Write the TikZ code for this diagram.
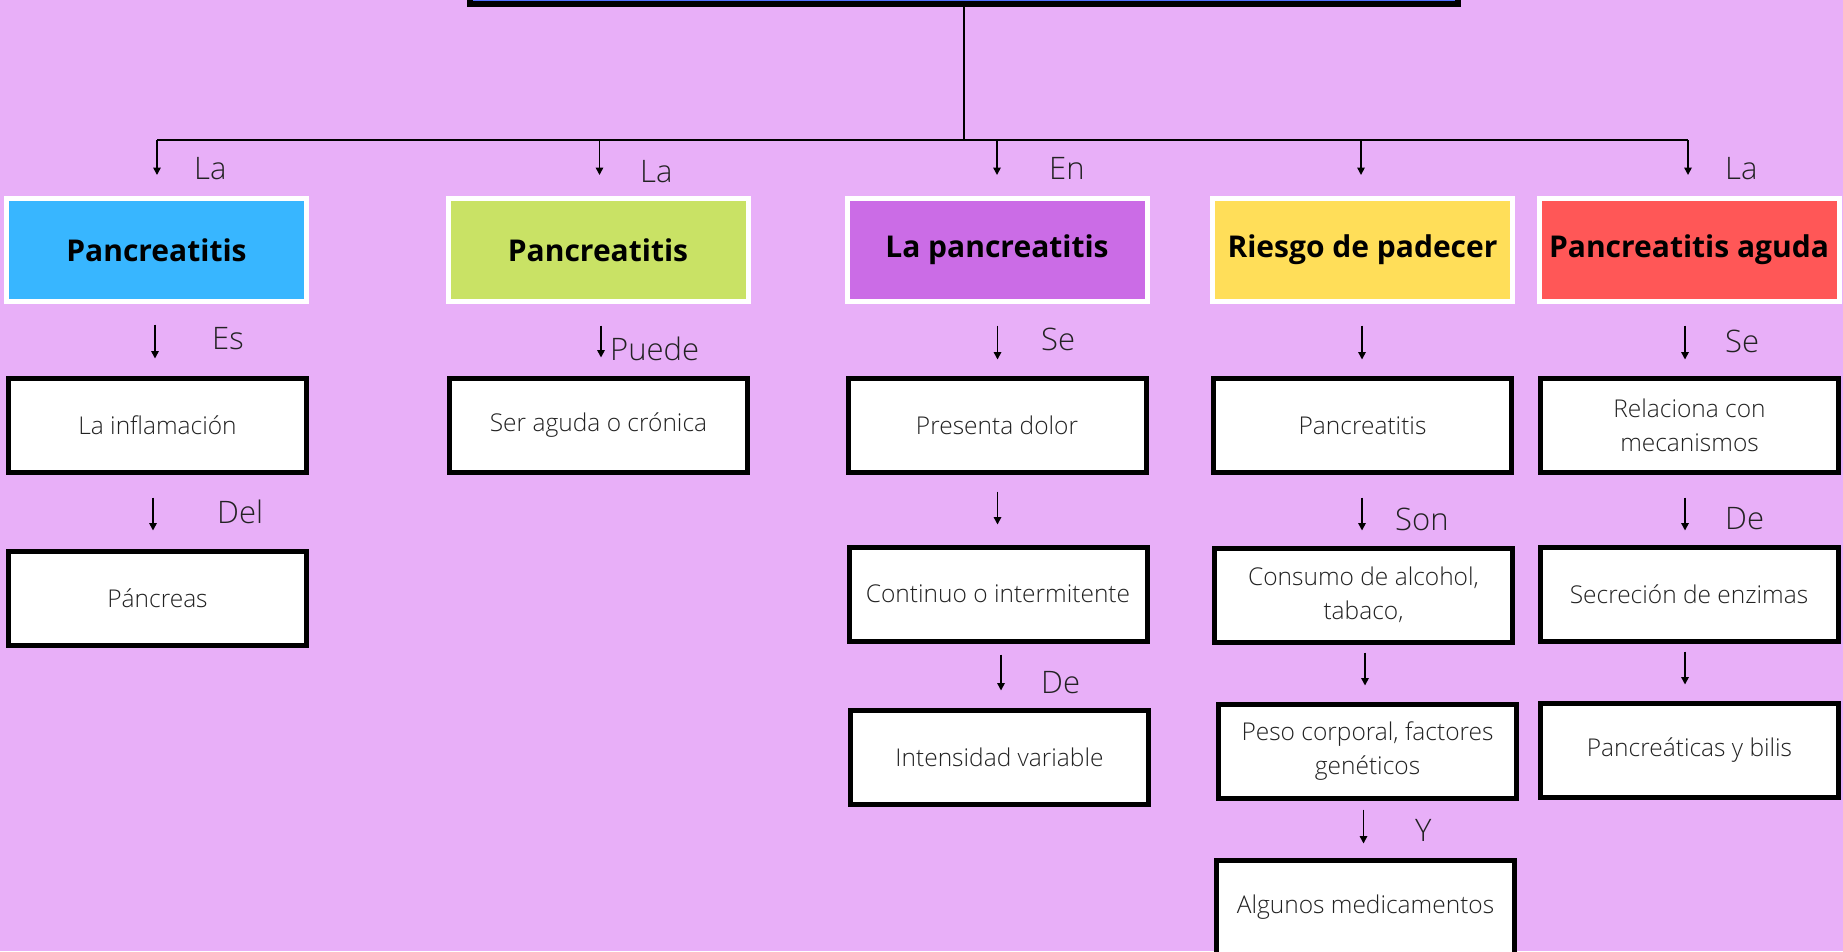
\documentclass[tikz,border=0pt]{standalone}
\usepackage{fontspec}
\setmainfont{Open Sans}[UprightFont=* Light,BoldFont=* Bold]
\usetikzlibrary{arrows.meta}
\definecolor{bg}{HTML}{E8AFF8}
\definecolor{hblue}{HTML}{38B6FF}
\definecolor{hgreen}{HTML}{C9E265}
\definecolor{hpurple}{HTML}{CB6CE6}
\definecolor{hyellow}{HTML}{FFDE59}
\definecolor{hred}{HTML}{FF5757}
\definecolor{topblue}{HTML}{5271FF}
\definecolor{txt}{HTML}{222222}
\begin{document}
\begin{tikzpicture}[x=1pt,y=-1pt,
  hdr/.style={draw=white,line width=5pt,minimum width=300pt,minimum height=103pt,inner sep=0pt,font=\fontsize{30}{35}\selectfont\bfseries,text=black},
  wbox/.style={draw=black,fill=white,line width=5pt,minimum width=298pt,minimum height=94pt,inner sep=0pt,align=center,font=\fontsize{24.5}{34}\selectfont,text=txt},
  lbl/.style={anchor=base west,inner sep=0pt,font=\fontsize{31}{36}\selectfont,text=txt},
  arr/.style={line width=1.6pt,-{Triangle[width=7.5pt,length=7.5pt]}},
  bus/.style={line width=2pt}
]
\clip (0,0) rectangle (1843,951);
\fill[bg] (0,0) rectangle (1843,951);

% top box (cut off)
\node[draw=black,fill=topblue,line width=6pt,minimum width=988pt,minimum height=88pt,inner sep=0pt] (top) at (964,-40) {};

% headers
\node[hdr,fill=hblue]   (h1) at (156.5,250) {Pancreatitis};
\node[hdr,fill=hgreen]  (h2) at (598,250) {Pancreatitis};
\node[hdr,fill=hpurple] (h3) at (997,250) {La pancreatitis};
\node[hdr,fill=hyellow] (h4) at (1362.5,250) {Riesgo de padecer};
\node[hdr,fill=hred]    (h5) at (1689,250) {Pancreatitis aguda};

% row 1
\node[wbox] (b1) at (157.5,425.5) {La inflamación};
\node[wbox] (b2) at (598.5,425.5) {Ser aguda o crónica};
\node[wbox] (b3) at (997,425.5) {Presenta dolor};
\node[wbox] (b4) at (1362.5,425.5) {Pancreatitis};
\node[wbox] (b5) at (1689.5,425.5) {Relaciona con\\mecanismos};

% row 2
\node[wbox] (c1) at (157.5,598.5) {Páncreas};
\node[wbox] (c3) at (998,594) {Continuo o intermitente};
\node[wbox] (c4) at (1363.5,595) {Consumo de alcohol,\\tabaco,};
\node[wbox] (c5) at (1689,594.5) {Secreción de enzimas};

% row 3
\node[wbox] (d3) at (999.5,757) {Intensidad variable};
\node[wbox] (d4) at (1367.5,751.5) {Peso corporal, factores\\genéticos};
\node[wbox] (d5) at (1689.5,750) {Pancreáticas y bilis};

% row 4
\node[wbox] (e4) at (1365.5,907.5) {Algunos medicamentos};

% bus
\coordinate (bus1) at (157,140);
\coordinate (bus2) at (599.5,140);
\coordinate (bus3) at (997,140);
\coordinate (bus4) at (1361,140);
\coordinate (bus5) at (1688,140);
\draw[bus] (top.south) -- (top.south |- bus1);
\draw[bus] (bus1) -- (bus5);
\draw[arr] (bus1) -- ++(0,35);
\draw[arr] (bus2) -- ++(0,35);
\draw[arr] (bus3) -- ++(0,35);
\draw[arr] (bus4) -- ++(0,35);
\draw[arr] (bus5) -- ++(0,35);

% row A arrows
\draw[arr] (h1.south) ++(-1.5,20.5) -- ++(0,34);
\draw[arr] (h2.south) ++(3,21.5) -- ++(0,32);
\draw[arr] (h3.south) ++(0.5,21.5) -- ++(0,34);
\draw[arr] (h4.south) ++(-0.5,21.5) -- ++(0,34);
\draw[arr] (h5.south) ++(-4,21.5) -- ++(0,34);

% row B arrows
\draw[arr] (b1.south) ++(-4.5,22.5) -- ++(0,33);
\draw[arr] (b3.south) ++(0.5,16.5) -- ++(0,33);
\draw[arr] (b4.south) ++(-0.5,22.5) -- ++(0,33);
\draw[arr] (b5.south) ++(-4.5,22.5) -- ++(0,33);

% row C arrows
\draw[arr] (c3.south) ++(3,11) -- ++(0,36);
\draw[arr] (c4.south) ++(1.5,8) -- ++(0,33);
\draw[arr] (c5.south) ++(-4,7.5) -- ++(0,33);

% row D arrow
\draw[arr] (d4.south) ++(-4,8.5) -- ++(0,34);

% labels
\node[lbl] (l1) at (194,179) {La};
\node[lbl] (l2) at (640,182) {La};
\node[lbl] (l3) at (1049,179) {En};
\node[lbl] (l5) at (1725,179) {La};
\node[lbl] (la1) at (212,349) {Es};
\node[lbl] (la2) at (610,360) {Puede};
\node[lbl] (la3) at (1041,350) {Se};
\node[lbl] (la5) at (1725,352) {Se};
\node[lbl] (lb1) at (217,523) {Del};
\node[lbl] (lb4) at (1395,530) {Son};
\node[lbl] (lb5) at (1725,529) {De};
\node[lbl] (lc3) at (1041,693) {De};
\node[lbl] (ld4) at (1415,841) {Y};
\end{tikzpicture}
\end{document}
